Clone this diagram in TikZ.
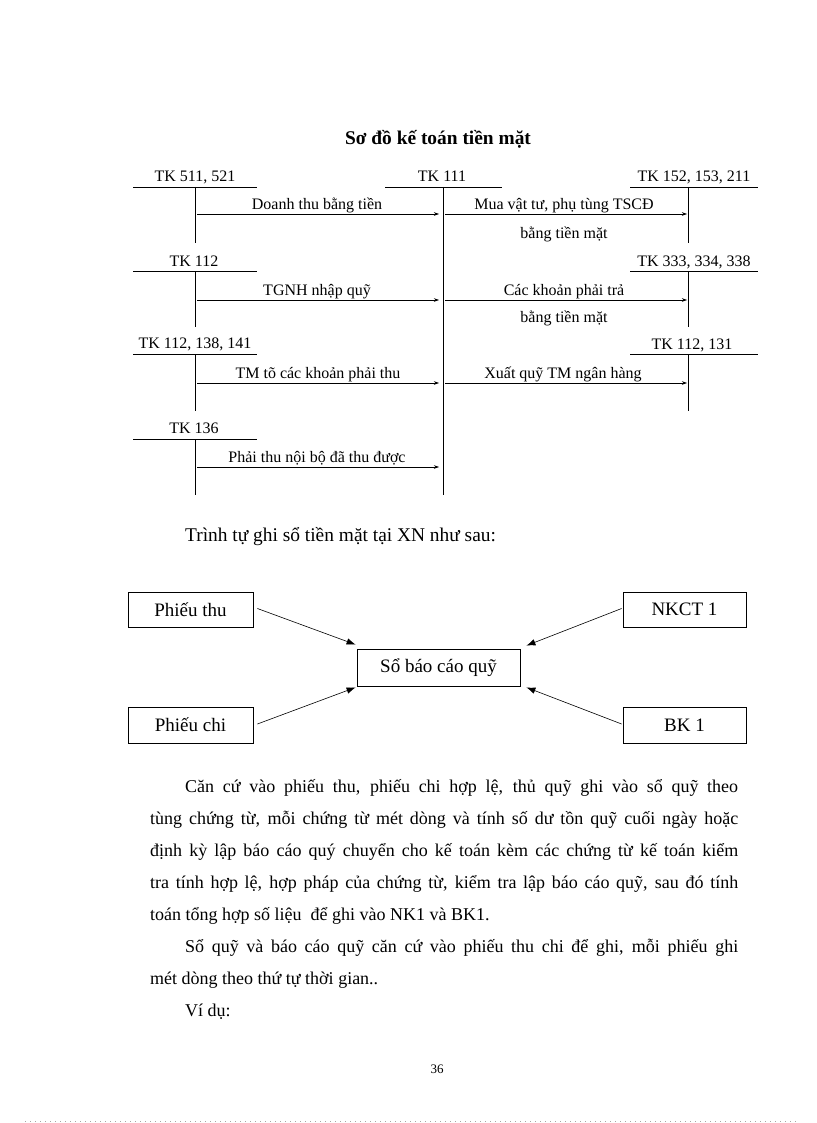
\documentclass[tikz,border=0pt]{standalone}
\usepackage{fontspec}
\setmainfont{Liberation Serif}
\usetikzlibrary{arrows.meta,calc}
\begin{document}
\begin{tikzpicture}[x=1pt,y=-1pt,
  tline/.style={line width=0.8pt},
  tklbl/.style={anchor=base,inner sep=0pt,font=\fontsize{16}{18}\selectfont},
  flbl/.style={anchor=base,inner sep=0pt,font=\fontsize{16}{18}\selectfont},
  farrow/.style={line width=0.6pt,-{Stealth[length=5pt,width=3.5pt]}},
  tbox/.style={draw,line width=0.8pt,inner sep=0pt,font=\fontsize{19}{21}\selectfont},
  barrow/.style={line width=0.6pt,-{Latex[length=9pt,width=6.5pt]}},
  body/.style={anchor=base west,inner sep=0pt,font=\fontsize{18}{20}\selectfont},
]
\fill[white] (0,0) rectangle (816,1123);
\useasboundingbox (0,0) rectangle (816,1123);

% title
\node[anchor=base,inner sep=0pt,font=\bfseries\fontsize{19.4}{21}\selectfont] (title) at (438,145) {Sơ đồ kế toán tiền mặt};

% ---- T accounts ----
\coordinate (L1) at (195,187);
\coordinate (L2) at (195,271);
\coordinate (L3) at (195,354);
\coordinate (L4) at (195,439);
\coordinate (M)  at (443,187);
\coordinate (R1) at (688,187);
\coordinate (R2) at (688,271);
\coordinate (R3) at (688,354);

\node[tklbl] (tL1) at (195,182) {TK 511, 521};
\node[tklbl] (tL2) at (194,266) {TK 112};
\node[tklbl] (tL3) at (195,348) {TK 112, 138, 141};
\node[tklbl] (tL4) at (194,433) {TK 136};
\node[tklbl] (tM)  at (442,182) {TK 111};
\node[tklbl] (tR1) at (694,182) {TK 152, 153, 211};
\node[tklbl] (tR2) at (694,266) {TK 333, 334, 338};
\node[tklbl] (tR3) at (692,349) {TK 112, 131};

\foreach \c in {L1,L2,L3,L4}{
  \draw[tline] ($(\c)+(-62,0)$) -- ($(\c)+(62,0)$);
}
\foreach \c/\l in {L1/56,L2/56,L3/57,L4/56}{
  \draw[tline] (\c) -- ++(0,\l);
}
\draw[tline] ($(M)+(-58,0)$) -- ($(M)+(59,0)$);
\draw[tline] (M) -- ++(0,308);
\foreach \c in {R1,R2,R3}{
  \draw[tline] ($(\c)+(-58,0)$) -- ($(\c)+(70,0)$);
}
\foreach \c/\l in {R1/56,R2/56,R3/57}{
  \draw[tline] (\c) -- ++(0,\l);
}

% arrows into / out of TK 111
\coordinate (a1s) at (197,214); \coordinate (a1e) at (439,214);
\coordinate (a2s) at (197,300); \coordinate (a2e) at (439,300);
\coordinate (a3s) at (197,383); \coordinate (a3e) at (439,383);
\coordinate (a4s) at (197,467); \coordinate (a4e) at (439,467);
\coordinate (b1s) at (445,214); \coordinate (b1e) at (687,214);
\coordinate (b2s) at (445,300); \coordinate (b2e) at (687,300);
\coordinate (b3s) at (445,383); \coordinate (b3e) at (687,383);

\draw[farrow] (a1s) -- (a1e);
\draw[farrow] (a2s) -- (a2e);
\draw[farrow] (a3s) -- (a3e);
\draw[farrow] (a4s) -- (a4e);
\draw[farrow] (b1s) -- (b1e);
\draw[farrow] (b2s) -- (b2e);
\draw[farrow] (b3s) -- (b3e);

\node[flbl] (la1) at (317,210) {Doanh thu bằng tiền};
\node[flbl] (la2) at (317,295) {TGNH nhập quỹ};
\node[flbl] (la3) at (318,378) {TM tõ các khoản phải thu};
\node[flbl] (la4) at (317,462) {Phải thu nội bộ đã thu được};
\node[flbl] (lb1) at (564,210) {Mua vật tư, phụ tùng TSCĐ};
\node[flbl] (lb1b) at (564,238) {bằng tiền mặt};
\node[flbl] (lb2) at (564,295) {Các khoản phải trả};
\node[flbl] (lb2b) at (564,322) {bằng tiền mặt};
\node[flbl] (lb3) at (563,378) {Xuất quỹ TM ngân hàng};

% ---- sentence ----
\node[body,font=\fontsize{19.4}{21}\selectfont] (intro) at (185,541) {Trình tự ghi sổ tiền mặt tại XN như sau:};

% ---- boxes ----
\node[tbox,minimum width=125pt,minimum height=35pt] (pthu) at (190.5,609.5) {\raisebox{-1.5pt}{Phiếu thu}};
\node[tbox,minimum width=123pt,minimum height=35pt] (nkct) at (684.5,609.5) {\raisebox{-1.5pt}{NKCT 1}};
\node[tbox,minimum width=163pt,minimum height=37pt] (sbcq) at (438.5,667.5) {\raisebox{-1.5pt}{Sổ báo cáo quỹ}};
\node[tbox,minimum width=125pt,minimum height=36pt] (pchi) at (190.5,725) {\raisebox{-1.5pt}{Phiếu chi}};
\node[tbox,minimum width=123pt,minimum height=36pt] (bk)   at (684.5,725) {\raisebox{-1.5pt}{BK 1}};

\draw[barrow] ([shift={(4pt,1pt)}]pthu.east) -- ([shift={(-1pt,4pt)}]sbcq.north west);
\draw[barrow] ([shift={(4pt,1pt)}]pchi.east) -- ([shift={(-1pt,-1pt)}]sbcq.south west);
\draw[barrow] ([shift={(-1pt,1pt)}]nkct.west) -- ([shift={(6pt,3pt)}]sbcq.north east);
\draw[barrow] ([shift={(-1pt,1pt)}]bk.west) -- ([shift={(6pt,-1pt)}]sbcq.south east);

% ---- paragraph ----
\node[body] (p1) at (185,792) {\makebox[553pt][s]{Căn cứ vào phiếu thu, phiếu chi hợp lệ, thủ quỹ ghi vào sổ quỹ theo}};
\node[body] (p2) at (150,824.1) {\makebox[588pt][s]{tùng chứng từ, mỗi chứng từ mét dòng và tính số dư tồn quỹ cuối ngày hoặc}};
\node[body] (p3) at (150,856.2) {\makebox[588pt][s]{định kỳ lập báo cáo quý chuyển cho kế toán kèm các chứng từ kế toán kiểm}};
\node[body] (p4) at (150,888.3) {\makebox[588pt][s]{tra tính hợp lệ, hợp pháp của chứng từ, kiểm tra lập báo cáo quỹ, sau đó tính}};
\node[body] (p5) at (150,920.4) {toán tổng hợp số liệu\ \ để ghi vào NK1 và BK1.};
\node[body] (p6) at (185,952.5) {\makebox[553pt][s]{Sổ quỹ và báo cáo quỹ căn cứ vào phiếu thu chi để ghi, mỗi phiếu ghi}};
\node[body] (p7) at (150,984.6) {mét dòng theo thứ tự thời gian..};
\node[body] (p8) at (185,1016.7) {Ví dụ:};

% page number and footer
\node[anchor=base,inner sep=0pt,font=\fontsize{13}{15}\selectfont] (pg) at (437,1073) {36};
\draw[gray!70,line width=0.7pt,dash pattern=on 0.8pt off 4.2pt] (25,1121) -- (796,1121);
\end{tikzpicture}
\end{document}
